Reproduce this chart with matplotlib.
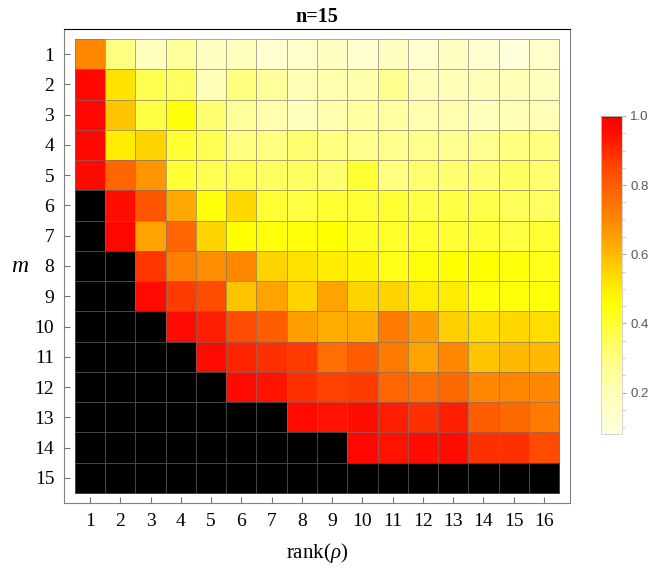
import numpy as np
import matplotlib
matplotlib.use("Agg")
import matplotlib.pyplot as plt
from matplotlib.colors import LinearSegmentedColormap, Normalize
from matplotlib.ticker import MultipleLocator

plt.rcParams["mathtext.fontset"] = "custom"
plt.rcParams["mathtext.rm"] = "Liberation Serif"
plt.rcParams["mathtext.it"] = "Liberation Serif:italic"

# rank(rho) along x, m along y
ranks = list(range(1, 17))
ms = list(range(1, 16))

# cell values, one list per m (1.0 = black)
row_1 = [0.70, 0.30, 0.18, 0.25, 0.17, 0.18, 0.13, 0.15, 0.17, 0.13, 0.17, 0.13, 0.17, 0.13, 0.10, 0.15]
row_2 = [0.97, 0.52, 0.36, 0.34, 0.20, 0.30, 0.25, 0.20, 0.22, 0.22, 0.27, 0.20, 0.20, 0.20, 0.20, 0.18]
row_3 = [0.97, 0.58, 0.38, 0.45, 0.32, 0.25, 0.22, 0.18, 0.22, 0.24, 0.24, 0.22, 0.22, 0.18, 0.20, 0.20]
row_4 = [0.97, 0.50, 0.55, 0.40, 0.36, 0.30, 0.30, 0.32, 0.30, 0.28, 0.28, 0.28, 0.27, 0.27, 0.30, 0.30]
row_5 = [0.96, 0.78, 0.67, 0.40, 0.36, 0.36, 0.34, 0.34, 0.32, 0.40, 0.30, 0.32, 0.32, 0.32, 0.34, 0.32]
row_6 = [1.00, 0.95, 0.82, 0.63, 0.45, 0.54, 0.40, 0.38, 0.40, 0.40, 0.40, 0.38, 0.38, 0.37, 0.35, 0.34]
row_7 = [1.00, 0.97, 0.64, 0.78, 0.55, 0.46, 0.45, 0.45, 0.46, 0.42, 0.41, 0.41, 0.40, 0.40, 0.38, 0.40]
row_8 = [1.00, 1.00, 0.88, 0.72, 0.69, 0.70, 0.55, 0.52, 0.50, 0.48, 0.43, 0.45, 0.46, 0.46, 0.45, 0.43]
row_9 = [1.00, 1.00, 0.96, 0.87, 0.84, 0.58, 0.64, 0.55, 0.64, 0.55, 0.55, 0.50, 0.50, 0.45, 0.45, 0.45]
row_10 = [1.00, 1.00, 1.00, 0.96, 0.92, 0.84, 0.80, 0.65, 0.62, 0.62, 0.73, 0.66, 0.56, 0.53, 0.54, 0.53]
row_11 = [1.00, 1.00, 1.00, 1.00, 0.96, 0.91, 0.89, 0.87, 0.76, 0.80, 0.73, 0.64, 0.70, 0.58, 0.60, 0.60]
row_12 = [1.00, 1.00, 1.00, 1.00, 1.00, 0.96, 0.94, 0.89, 0.86, 0.87, 0.78, 0.76, 0.77, 0.70, 0.71, 0.70]
row_13 = [1.00, 1.00, 1.00, 1.00, 1.00, 1.00, 1.00, 0.96, 0.94, 0.95, 0.92, 0.89, 0.92, 0.80, 0.77, 0.73]
row_14 = [1.00, 1.00, 1.00, 1.00, 1.00, 1.00, 1.00, 1.00, 1.00, 0.97, 0.94, 0.95, 0.95, 0.89, 0.89, 0.84]
row_15 = [1.00] * 16

values = np.array([row_1, row_2, row_3, row_4, row_5, row_6, row_7, row_8,
                   row_9, row_10, row_11, row_12, row_13, row_14, row_15])

VMIN, VMAX = 0.08, 1.0

# light cream -> yellow -> orange -> red, black right at the top
stops = [
    (0.08, (1.0, 1.0, 0.88)),
    (0.20, (1.0, 1.0, 0.72)),
    (0.30, (1.0, 1.0, 0.50)),
    (0.40, (1.0, 1.0, 0.20)),
    (0.46, (1.0, 1.0, 0.0)),
    (0.55, (1.0, 0.83, 0.0)),
    (0.65, (1.0, 0.62, 0.0)),
    (0.75, (1.0, 0.45, 0.0)),
    (0.85, (1.0, 0.28, 0.0)),
    (0.95, (1.0, 0.05, 0.0)),
    (0.995, (1.0, 0.0, 0.0)),
    (1.0, (0.0, 0.0, 0.0)),
]
cmap = LinearSegmentedColormap.from_list(
    "solar", [((v - VMIN) / (VMAX - VMIN), c) for v, c in stops], N=1024)
norm = Normalize(VMIN, VMAX)

fig = plt.figure(figsize=(6.64, 5.72), dpi=100)
ax = fig.add_axes([64 / 664, 1 - 503 / 572, 506 / 664, 474 / 572])

x_edges = np.arange(len(ranks) + 1) + 0.5
y_edges = np.arange(len(ms) + 1) + 0.5
mesh = ax.pcolormesh(x_edges, y_edges, values, cmap=cmap, norm=norm,
                     edgecolors=(0.45, 0.45, 0.45, 0.6), linewidth=0.5)

ax.set_xlim(0.5 - 0.36, len(ranks) + 0.5 + 0.36)
ax.set_ylim(len(ms) + 0.5 + 0.33, 0.5 - 0.33)

ax.set_xticks(ranks)
ax.set_yticks(ms)
ax.set_xticklabels([str(r) for r in ranks])
ax.set_yticklabels([str(m) for m in ms])
ax.tick_params(direction="in", length=4.3, width=0.8, color="0.45",
               labelsize=14, pad=7)
for lbl in ax.get_xticklabels() + ax.get_yticklabels():
    lbl.set_family("Liberation Serif")

for side in ["left", "bottom", "right"]:
    ax.spines[side].set_color("0.5")
ax.spines["top"].set_color("black")

ax.set_title("n=15", family="Liberation Serif", fontweight="bold",
             fontsize=14.5, pad=5)
ax.set_xlabel(r"rank($\rho$)", family="Liberation Serif", fontsize=15,
              labelpad=8)
ax.set_ylabel("m", family="Liberation Serif", style="italic", fontsize=17,
              rotation=0, labelpad=11, va="center")

# colorbar on the right
cax = fig.add_axes([601 / 664, 1 - 434 / 572, 21 / 664, 318 / 572])
cb = fig.colorbar(mesh, cax=cax)
cb.set_ticks([0.2, 0.4, 0.6, 0.8, 1.0])
cb.ax.yaxis.set_minor_locator(MultipleLocator(0.05))
cb.ax.tick_params(which="major", length=3, width=0.6, color="0.6",
                  labelsize=9.5, labelcolor="0.35", pad=3)
cb.ax.tick_params(which="minor", length=2, width=0.5, color="0.7")
for lbl in cb.ax.get_yticklabels():
    lbl.set_family("Liberation Sans")
cb.outline.set_edgecolor("0.8")
cb.outline.set_linewidth(0.6)

fig.savefig("out.png", dpi=100)
